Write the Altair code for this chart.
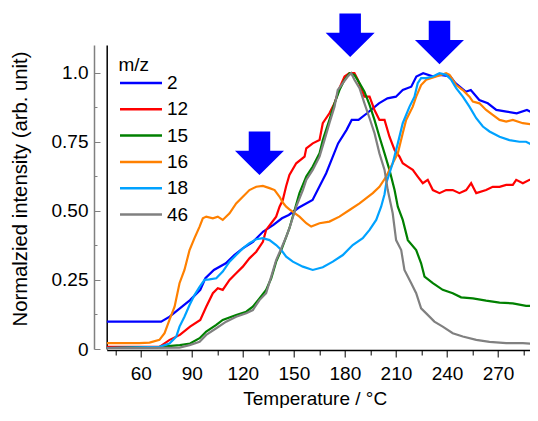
import altair as alt
import pandas as pd

# ---------------- data ----------------
series_names = ["2", "12", "15", "16", "18", "46"]
series_colors = ["#0000ff", "#ff0000", "#008000", "#ff8000", "#00a2ff", "#808080"]

t_2 = [40, 72, 77, 83, 89, 95, 98, 103, 110, 115, 120, 126, 132, 138, 143, 147, 153, 161, 169, 176,
       181, 184, 188, 193, 200, 205, 210, 214, 219, 222, 226, 232, 236, 242, 245, 251, 254, 259, 264, 269,
       275, 281, 287, 293]
v_2 = [0.099, 0.099, 0.117, 0.147, 0.177, 0.214, 0.256, 0.286, 0.310, 0.340, 0.364, 0.388, 0.425, 0.449,
       0.473, 0.485, 0.512, 0.539, 0.636, 0.744, 0.793, 0.829, 0.829, 0.853, 0.889, 0.907, 0.913, 0.937,
       0.949, 0.986, 0.998, 0.986, 0.992, 0.986, 0.962, 0.931, 0.937, 0.901, 0.889, 0.865, 0.859, 0.853,
       0.865, 0.847]

t_12 = [40, 71, 77, 83, 89, 95, 98.5, 102.4, 105.3, 108.2, 112.2, 116.1, 120, 123.9, 127.9, 131.8, 133.7,
        136.7, 139.6, 141.6, 143.5, 145.5, 147.4, 151.4, 156.3, 157.3, 161.1, 165.1, 167, 170.9, 173.9,
        176.8, 179.8, 182.7, 185.6, 187.6, 191.5, 194.5, 197.4, 200.3, 203.3, 206.2, 209.2, 212.1, 214,
        217, 219.9, 222.8, 225.8, 228.7, 231.7, 235.6, 239.5, 243.4, 247.3, 251.3, 254.2, 257.2, 263,
        266.9, 270.9, 274.8, 278.7, 280.7, 284.6, 288.5, 293]
v_12 = [0.008, 0.008, 0.033, 0.051, 0.081, 0.105, 0.153, 0.202, 0.220, 0.214, 0.250, 0.274, 0.298, 0.328,
        0.352, 0.388, 0.431, 0.455, 0.479, 0.515, 0.539, 0.590, 0.630, 0.672, 0.696, 0.726, 0.744, 0.756,
        0.817, 0.853, 0.889, 0.944, 0.986, 0.998, 0.998, 0.974, 0.913, 0.913, 0.865, 0.829, 0.829, 0.768,
        0.720, 0.696, 0.672, 0.660, 0.648, 0.624, 0.600, 0.612, 0.575, 0.564, 0.575, 0.575, 0.564, 0.575,
        0.600, 0.564, 0.575, 0.587, 0.587, 0.594, 0.594, 0.612, 0.600, 0.612, 0.606]

t_15 = [40, 71, 83, 89, 94.6, 98.5, 104.4, 108.2, 116.1, 122, 125.9, 129.8, 133.7, 136.7, 139.6, 142.6,
        145.5, 147.4, 153.3, 157.3, 161.1, 165.1, 167, 170.9, 173.9, 176.8, 179.8, 182.7, 185.6, 188.6,
        191.5, 194.5, 197.4, 200.3, 203.3, 206.2, 209.2, 211.1, 214, 217, 221.9, 224.8, 226.8, 231.7,
        237.5, 243.4, 248.3, 255.2, 263, 270.9, 278.7, 286.5, 293]
v_15 = [0.003, 0.008, 0.014, 0.020, 0.039, 0.063, 0.087, 0.105, 0.123, 0.135, 0.153, 0.183, 0.214, 0.256,
        0.316, 0.358, 0.406, 0.437, 0.564, 0.624, 0.660, 0.708, 0.756, 0.829, 0.889, 0.937, 0.974, 0.998,
        0.992, 0.962, 0.931, 0.883, 0.829, 0.768, 0.708, 0.648, 0.575, 0.515, 0.467, 0.394, 0.358, 0.310,
        0.262, 0.238, 0.214, 0.202, 0.187, 0.183, 0.175, 0.168, 0.165, 0.156, 0.156]

t_16 = [40, 59.3, 65.2, 71, 74, 76.9, 79.9, 82.8, 85.7, 88.7, 91.6, 94.6, 96.5, 98.5, 102.4, 105.3, 108.2,
        112.2, 116.1, 120, 123.9, 127.9, 131.8, 135.7, 138.7, 141.6, 143.5, 145.5, 147.4, 153.3, 157.3,
        160.2, 165.1, 170.9, 176.8, 182.7, 188.6, 196.4, 200.3, 204.3, 208.1, 211.1, 214, 216, 219.9,
        221.9, 224.8, 227.8, 233.7, 239.5, 241.5, 245.4, 249.3, 253.2, 255.2, 259.1, 263, 266.9, 270.9,
        274.8, 278.7, 284.6, 293]
v_16 = [0.021, 0.021, 0.023, 0.033, 0.057, 0.105, 0.153, 0.238, 0.286, 0.358, 0.401, 0.443, 0.473, 0.479,
        0.473, 0.479, 0.467, 0.491, 0.527, 0.551, 0.575, 0.587, 0.590, 0.582, 0.575, 0.551, 0.530, 0.515,
        0.505, 0.479, 0.455, 0.443, 0.455, 0.461, 0.479, 0.503, 0.527, 0.564, 0.587, 0.624, 0.672, 0.708,
        0.781, 0.829, 0.877, 0.913, 0.955, 0.974, 0.986, 0.998, 0.992, 0.955, 0.937, 0.913, 0.895, 0.889,
        0.865, 0.847, 0.829, 0.823, 0.829, 0.817, 0.811]

t_18 = [40, 71, 76.9, 80.9, 82.8, 85.7, 88.7, 91.6, 94.6, 97.5, 100.4, 104.4, 108.2, 112.2, 116.1, 120,
        123.9, 127.9, 131.8, 135.7, 139.6, 142.6, 145.5, 149.4, 155.3, 161.1, 167, 172.9, 178.8, 184.6,
        190.5, 194.5, 198.4, 201.3, 203.3, 204.3, 208.1, 211.1, 214, 218, 220.9, 222.8, 224.8, 227.8,
        231.7, 235.6, 239.5, 242.5, 245.4, 249.3, 253.2, 257.2, 261.1, 265, 270.9, 276.7, 282.6, 286.5,
        290.4, 293]
v_18 = [0.003, 0.008, 0.020, 0.045, 0.081, 0.117, 0.159, 0.195, 0.225, 0.250, 0.252, 0.256, 0.280, 0.316,
        0.340, 0.364, 0.383, 0.397, 0.401, 0.394, 0.376, 0.358, 0.334, 0.316, 0.298, 0.286, 0.296, 0.316,
        0.340, 0.376, 0.401, 0.431, 0.467, 0.515, 0.560, 0.600, 0.672, 0.744, 0.817, 0.877, 0.913, 0.962,
        0.980, 0.980, 0.986, 0.998, 0.992, 0.974, 0.944, 0.913, 0.877, 0.835, 0.805, 0.787, 0.768, 0.756,
        0.750, 0.750, 0.738, 0.732]

t_46 = [40, 82.8, 88.7, 94.6, 98.5, 104.4, 110.2, 116.1, 122, 125.9, 129.8, 133.7, 136.7, 139.6, 142.6,
        145.5, 147.4, 151.4, 155.3, 157.3, 161.1, 165.1, 168, 170.9, 173.9, 175.8, 178.8, 181.7, 183.7,
        185.6, 188.6, 191.5, 194.5, 197.4, 200.3, 203.3, 205.2, 208.1, 210.1, 213.1, 215, 219, 221.9,
        224.8, 227.8, 232.6, 237.5, 243.4, 249.3, 257.2, 265, 274.8, 284.6, 293]
v_46 = [0.002, 0.005, 0.014, 0.026, 0.051, 0.075, 0.099, 0.117, 0.129, 0.141, 0.177, 0.202, 0.262, 0.322,
        0.364, 0.406, 0.437, 0.515, 0.575, 0.612, 0.648, 0.696, 0.756, 0.817, 0.877, 0.937, 0.962, 0.986,
        0.998, 0.974, 0.944, 0.889, 0.835, 0.781, 0.708, 0.648, 0.575, 0.491, 0.394, 0.358, 0.286, 0.238,
        0.202, 0.147, 0.129, 0.099, 0.081, 0.057, 0.045, 0.033, 0.026, 0.021, 0.021, 0.018]

# arrow markers (temperature, intensity of arrow centre)
arrow_t = [129.8, 183.1, 235.6]
arrow_v = [0.708, 1.135, 1.109]

x_major = [60, 90, 120, 150, 180, 210, 240, 270]
x_minor = [45, 75, 105, 135, 165, 195, 225, 255, 285]
y_major = [0, 0.25, 0.5, 0.75, 1.0]
y_minor = [0.125, 0.375, 0.625, 0.875]

# ---------------- build tables ----------------
rows = []
for name, ts, vs in zip(series_names, [t_2, t_12, t_15, t_16, t_18, t_46],
                        [v_2, v_12, v_15, v_16, v_18, v_46]):
    for t, v in zip(ts, vs):
        rows.append({"mz": name, "T": t, "I": v})
df = pd.DataFrame(rows)
arrows_df = pd.DataFrame({"T": arrow_t, "I": arrow_v})

FONT = "Liberation Sans"
W, H = 423.3, 304

x_scale = alt.Scale(domain=[40, 288.8], nice=False, zero=False)
y_scale = alt.Scale(domain=[0, 1.1], nice=False, zero=False)

x_axis_major = alt.Axis(
    orient="bottom", offset=1, values=x_major,
    labelOverlap=False, labelFlush=False,
    domainColor="black", domainWidth=1.5,
    tickColor="black", tickWidth=1, tickSize=7,
    labelFont=FONT, labelFontSize=19, labelColor="black", labelPadding=7.6,
    title="Temperature / °C", titleFont=FONT, titleFontSize=19, titleFontWeight="normal",
    titleColor="black", titleBaseline="alphabetic", titleAlign="center",
    titleX=208, titleY=54, grid=False,
)
x_axis_minor = alt.Axis(
    orient="bottom", offset=1, values=x_minor, labels=False, title=None, domain=False,
    tickColor="black", tickWidth=1, tickSize=5, grid=False,
)

y_axis_left = alt.Axis(
    orient="left", offset=0, values=y_major,
    labelExpr="datum.value == 0 ? '0' : (datum.value == 1 ? '1.0' : format(datum.value, '.2f'))",
    labelOverlap=False, labelFlush=False,
    ticks=False, domainColor="black", domainWidth=1.5,
    labelFont=FONT, labelFontSize=19, labelColor="black", labelPadding=18.7,
    title="Normalzied intensity (arb. unit)", titleFont=FONT, titleFontSize=20.3,
    titleFontWeight="normal", titleColor="black", titleAngle=270, titleAlign="center",
    titleBaseline="alphabetic", titleX=-80, titleY=143.5, grid=False,
)
y_axis_inner_major = alt.Axis(
    orient="right", offset=-(W + 12.7), values=y_major, labels=False, title=None,
    domainColor="#808080", domainWidth=1.5, tickColor="#808080", tickWidth=1, tickSize=6,
    grid=False,
)
y_axis_inner_minor = alt.Axis(
    orient="left", offset=9.7, values=y_minor, labels=False, title=None, domain=False,
    tickColor="#808080", tickWidth=1, tickSize=3, grid=False,
)

legend = alt.Legend(
    title="m/z", orient="none", legendX=11.8, legendY=10.5, padding=0,
    titleFont=FONT, titleFontSize=19, titleFontWeight="normal", titleColor="black", titlePadding=-2.5,
    labelFont=FONT, labelFontSize=19, labelColor="black",
    symbolType="M-1,0H3.42", symbolSize=361, symbolStrokeWidth=2.5, symbolOffset=0,
    labelOffset=26.5, rowPadding=5.3,
)

lines = alt.Chart(df).mark_line(strokeWidth=2.2, clip=True).encode(
    x=alt.X("T:Q", scale=x_scale, axis=x_axis_major),
    y=alt.Y("I:Q", scale=y_scale, axis=y_axis_left),
    color=alt.Color("mz:N", scale=alt.Scale(domain=series_names, range=series_colors), legend=legend),
)

arrow_path = "M-0.43,-0.87L0.43,-0.87L0.43,-0.1L0.98,-0.1L0,0.87L-0.98,-0.1L-0.43,-0.1Z"
arrows = alt.Chart(arrows_df).mark_point(
    shape=arrow_path, filled=True, size=2500, color="#0000ff", opacity=1, strokeWidth=0,
).encode(
    x=alt.X("T:Q", scale=x_scale, axis=x_axis_minor),
    y=alt.Y("I:Q", scale=y_scale, axis=y_axis_inner_major),
)

ghost = alt.Chart(arrows_df).mark_point(opacity=0, size=1).encode(
    x=alt.X("T:Q", scale=x_scale, axis=None),
    y=alt.Y("I:Q", scale=y_scale, axis=y_axis_inner_minor),
)

chart = (
    alt.layer(lines, arrows, ghost)
    .resolve_axis(x="independent", y="independent")
    .properties(
        width=W, height=H, autosize="none",
        padding={"left": 98.7, "top": 37, "right": 0, "bottom": 59},
    )
    .configure_view(strokeWidth=0)
)

chart.save("out.html", embed_options={"renderer": "svg", "actions": False})
